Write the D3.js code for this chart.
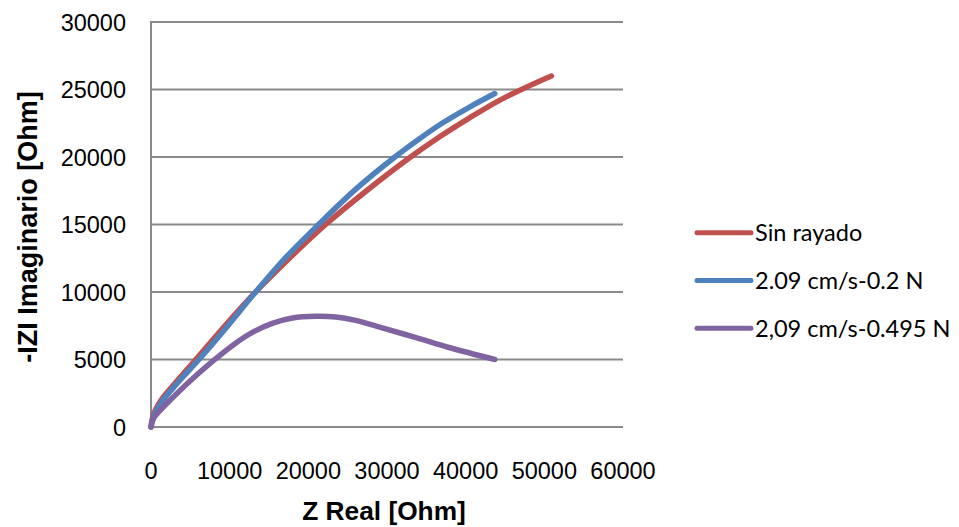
<!DOCTYPE html>
<html>
<head>
<meta charset="utf-8">
<script src="https://cdn.jsdelivr.net/npm/d3@7"></script>
<style>
  html, body { margin: 0; padding: 0; background: #fff; }
  svg { display: block; }
</style>
</head>
<body>
<svg id="chart" width="959" height="527"></svg>
<script>
// ---- data ----
const seriesNames = ["Sin rayado", "2.09 cm/s-0.2 N", "2,09 cm/s-0.495 N"];
const seriesColors = ["#C0504D", "#4F81BD", "#8064A2"];

const redX = [0, 300, 1300, 3000, 5700, 9400, 13300, 17600, 22200, 27400, 33000, 36700, 40500, 44300, 48000, 50900];
const redY = [0, 900, 2000, 3200, 5000, 7500, 10000, 12500, 15000, 17500, 20000, 21500, 22900, 24200, 25250, 26000];

const blueX = [0, 300, 1300, 3200, 6100, 9700, 13300, 17200, 21300, 26000, 31000, 34000, 37000, 40500, 43700];
const blueY = [0, 750, 1800, 3150, 5000, 7450, 10000, 12600, 15000, 17600, 20000, 21300, 22500, 23700, 24700];

const purpleX = [0, 300, 1000, 2500, 5000, 8000, 10500, 13000, 15500, 18000, 21000, 23500, 26000, 29500, 33800, 38000, 43700];
const purpleY = [0, 620, 1130, 2030, 3430, 4950, 6100, 7040, 7700, 8080, 8200, 8150, 7900, 7330, 6600, 5870, 5000];

const xTicks = [0, 10000, 20000, 30000, 40000, 50000, 60000];
const yTicks = [0, 5000, 10000, 15000, 20000, 25000, 30000];
const xTitle = "Z Real [Ohm]";
const yTitle = "-IZI Imaginario [Ohm]";

// ---- drawing ----
const svg = d3.select("#chart");
const x = d3.scaleLinear().domain([0, 60000]).range([151, 623]);
const y = d3.scaleLinear().domain([0, 30000]).range([427, 22]);
const gridColor = "#8a8a8a";

// gridlines
svg.append("g").selectAll("line").data(yTicks).join("line")
  .attr("x1", x(0)).attr("x2", x(60000))
  .attr("y1", d => y(d)).attr("y2", d => y(d))
  .attr("stroke", gridColor).attr("stroke-width", 2);

// left axis line
svg.append("line")
  .attr("x1", x(0)).attr("x2", x(0))
  .attr("y1", y(0) + 1).attr("y2", y(30000) - 1)
  .attr("stroke", gridColor).attr("stroke-width", 2);

// y tick labels
svg.append("g").selectAll("text").data(yTicks).join("text")
  .attr("x", 126).attr("y", d => y(d) + 8.8)
  .attr("text-anchor", "end")
  .attr("font-family", "'Liberation Sans', Arial, sans-serif")
  .attr("font-size", 23.5).attr("fill", "#000")
  .text(d => d);

// x tick labels
svg.append("g").selectAll("text").data(xTicks).join("text")
  .attr("x", d => x(d)).attr("y", 478.5)
  .attr("text-anchor", "middle")
  .attr("font-family", "'Liberation Sans', Arial, sans-serif")
  .attr("font-size", 23.5).attr("fill", "#000")
  .text(d => d);

// axis titles
svg.append("text")
  .attr("x", 384).attr("y", 520)
  .attr("text-anchor", "middle")
  .attr("font-family", "'Liberation Sans', Arial, sans-serif")
  .attr("font-weight", "bold").attr("font-size", 26.3)
  .text(xTitle);

svg.append("text")
  .attr("transform", "translate(37,227) rotate(-90)")
  .attr("text-anchor", "middle")
  .attr("font-family", "'Liberation Sans', Arial, sans-serif")
  .attr("font-weight", "bold").attr("font-size", 27)
  .text(yTitle);

// series
const series = [
  { xs: redX, ys: redY },
  { xs: blueX, ys: blueY },
  { xs: purpleX, ys: purpleY }
];
const line = d3.line().x(d => x(d[0])).y(d => y(d[1])).curve(d3.curveCatmullRom.alpha(0.5));
series.forEach((s, i) => {
  const pts = s.xs.map((v, j) => [v, s.ys[j]]);
  svg.append("path")
    .attr("d", line(pts))
    .attr("fill", "none")
    .attr("stroke", seriesColors[i])
    .attr("stroke-width", 5.5)
    .attr("stroke-linecap", "round")
    .attr("stroke-linejoin", "round");
});

// legend
const legend = svg.append("g");
seriesNames.forEach((name, i) => {
  const ly = 232.7 + i * 47.8;
  legend.append("line")
    .attr("x1", 697).attr("x2", 751)
    .attr("y1", ly).attr("y2", ly)
    .attr("stroke", seriesColors[i]).attr("stroke-width", 5)
    .attr("stroke-linecap", "round");
  legend.append("text")
    .attr("x", 755).attr("y", ly + 8.3)
    .attr("font-family", "Lato, 'Open Sans', sans-serif")
    .attr("font-size", 23.5).attr("fill", "#000")
    .text(name);
});
</script>
</body>
</html>
